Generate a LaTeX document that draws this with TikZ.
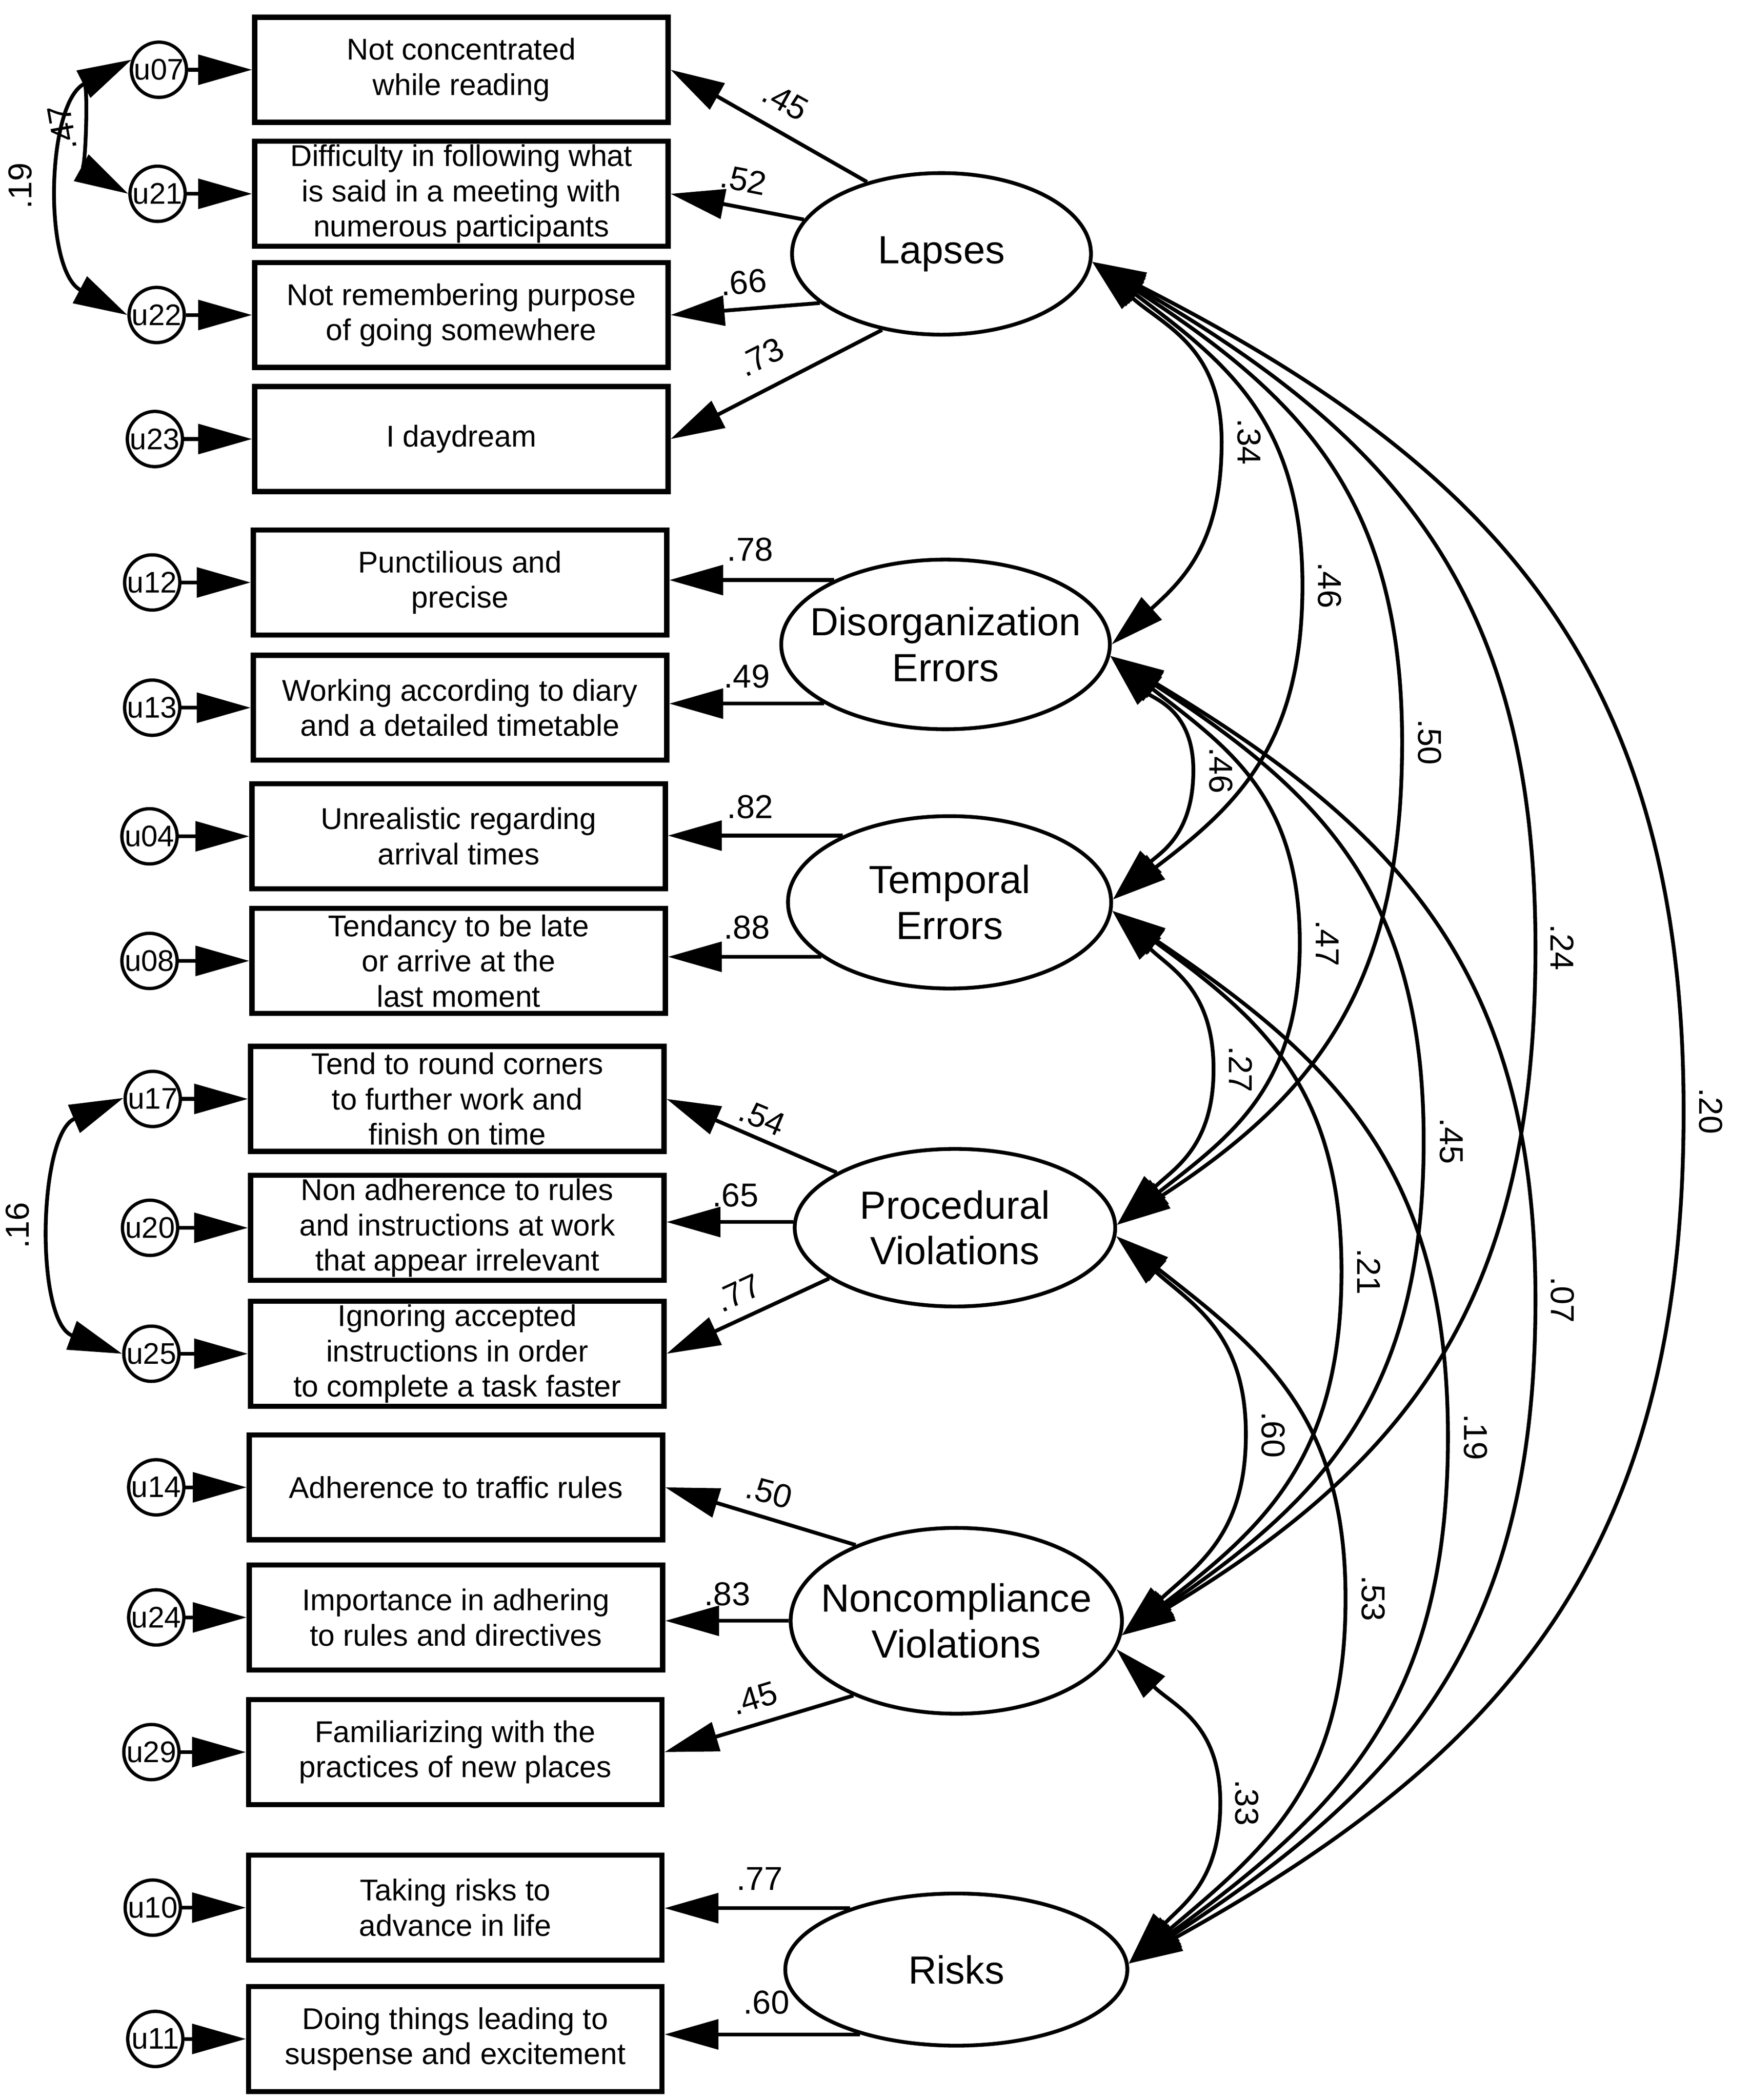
\documentclass[tikz,border=0pt]{standalone}
\usepackage{fontspec}
\setmainfont{Liberation Sans}
\usetikzlibrary{arrows.meta,shapes.geometric}
\begin{document}
\begin{tikzpicture}[x=0.02cm,y=-0.02cm,
  tri/.tip={Triangle[length=0.8cm,width=0.44cm]},
  obs/.style={draw,line width=2.2pt,rectangle,minimum width=6.14cm,minimum height=1.56cm,inner sep=0pt,align=center,font=\fontsize{12.7}{14.9}\selectfont},
  errc/.style={draw,circle,line width=1.4pt,minimum size=0.82cm,inner sep=0pt},
  errt/.style={inner sep=0pt,font=\fontsize{12.6}{12.6}\selectfont},
  lat/.style={draw,ellipse,line width=1.6pt,inner sep=0pt},
  latt/.style={align=center,inner sep=0pt,font=\fontsize{16.6}{19.3}\selectfont},
  ld/.style={-tri,line width=1.6pt},
  cov/.style={tri-tri,line width=1.6pt},
  lbl/.style={inner sep=0pt,font=\fontsize{14}{14}\selectfont},
  lp/.style={looseness=1.1}
]
\path[use as bounding box] (0,0) rectangle (1300,1559.35);

% observed variables
\node[obs] (b1) at (342.5,51.8) {Not concentrated\\while reading};
\node[obs] (b2) at (342.5,143.9) {Difficulty in following what\\is said in a meeting with\\numerous participants};
\node[obs] (b3) at (342.5,233.9) {Not remembering purpose\\of going somewhere};
\node[obs] (b4) at (342.5,326) {I daydream};
\node[obs] (b5) at (341.5,432.5) {Punctilious and\\precise};
\node[obs] (b6) at (341.5,525.5) {Working according to diary\\and a detailed timetable};
\node[obs] (b7) at (340.5,621) {Unrealistic regarding\\arrival times};
\node[obs] (b8) at (340.5,713.5) {Tendancy to be late\\or arrive at the\\last moment};
\node[obs] (b9) at (339.5,816) {Tend to round corners\\to further work and\\finish on time};
\node[obs] (b10) at (339.5,911.7) {Non adherence to rules\\and instructions at work\\that appear irrelevant};
\node[obs] (b11) at (339.5,1005.2) {Ignoring accepted\\instructions in order\\to complete a task faster};
\node[obs] (b12) at (338.5,1104.4) {Adherence to traffic rules};
\node[obs] (b13) at (338.5,1201) {Importance in adhering\\to rules and directives};
\node[obs] (b14) at (338,1301) {Familiarizing with the\\practices of new places};
\node[obs] (b15) at (338,1416.5) {Taking risks to\\advance in life};
\node[obs] (b16) at (338,1514) {Doing things leading to\\suspense and excitement};

% error terms
\node[errc] (e07) at (118,51.8) {};   \node[errt] (t07) at (e07) {u07};
\node[errc] (e21) at (117,143.9) {};  \node[errt] (t21) at (e21) {u21};
\node[errc] (e22) at (116.3,233.9) {};\node[errt] (t22) at (e22) {u22};
\node[errc] (e23) at (115,326) {};    \node[errt] (t23) at (e23) {u23};
\node[errc] (e12) at (113,432.5) {};  \node[errt] (t12) at (e12) {u12};
\node[errc] (e13) at (113,525.5) {};  \node[errt] (t13) at (e13) {u13};
\node[errc] (e04) at (111,621) {};    \node[errt] (t04) at (e04) {u04};
\node[errc] (e08) at (111,713.5) {};  \node[errt] (t08) at (e08) {u08};
\node[errc] (e17) at (113.4,816) {};  \node[errt] (t17) at (e17) {u17};
\node[errc] (e20) at (111.4,911.7) {};\node[errt] (t20) at (e20) {u20};
\node[errc] (e25) at (112.4,1005.2) {};\node[errt] (t25) at (e25) {u25};
\node[errc] (e14) at (116,1104.4) {}; \node[errt] (t14) at (e14) {u14};
\node[errc] (e24) at (116,1201) {};   \node[errt] (t24) at (e24) {u24};
\node[errc] (e29) at (112.4,1301) {}; \node[errt] (t29) at (e29) {u29};
\node[errc] (e10) at (113.4,1416.5) {};\node[errt] (t10) at (e10) {u10};
\node[errc] (e11) at (115.3,1514) {}; \node[errt] (t11) at (e11) {u11};

\foreach \e/\b in {e07/b1,e21/b2,e22/b3,e23/b4,e12/b5,e13/b6,e04/b7,e08/b8,e17/b9,e20/b10,e25/b11,e14/b12,e24/b13,e29/b14,e10/b15,e11/b16}
  \draw[ld] (\e) -- (\b.west);

% error covariances
\draw[cov] (e07.160) to[out=207,in=151,distance=0.72cm] (e21.180);
\draw[cov] (e07.160) to[out=207,in=152,distance=1.42cm] (e22.180);
\draw[cov] (e17.178) to[out=203,in=160,distance=1.38cm] (e25.180);
\node[lbl,rotate=100] (c47) at (46,95) {.47};
\node[lbl,rotate=90] (c19) at (15,138) {.19};
\node[lbl,rotate=90] (c16) at (13,910) {.16};

% latent variables
\node[lat,minimum width=4.44cm,minimum height=2.4cm] (L) at (699,188.5) {};
\node[latt] (Lt) at (L) {Lapses};
\node[lat,minimum width=4.88cm,minimum height=2.52cm] (D) at (702,478.5) {};
\node[latt] (Dt) at (D) {Disorganization\\Errors};
\node[lat,minimum width=4.8cm,minimum height=2.56cm] (T) at (705,670) {};
\node[latt] (Tt) at (T) {Temporal\\Errors};
\node[lat,minimum width=4.76cm,minimum height=2.34cm] (P) at (709,911.6) {};
\node[latt] (Pt) at (P) {Procedural\\Violations};
\node[lat,minimum width=4.92cm,minimum height=2.76cm] (N) at (710,1203.5) {};
\node[latt] (Nt) at (N) {Noncompliance\\Violations};
\node[lat,minimum width=5.08cm,minimum height=2.26cm] (R) at (710,1462.5) {};
\node[latt] (Rt) at (R) {Risks};

% loadings
\draw[ld] (L.136) -- (b1.east);
\draw[ld] (L.166) -- (b2.east);
\draw[ld] (L.202) -- (b3.east);
\draw[ld] (L.232) -- (b4.east);
\draw[ld] (D.150) -- (D.150 -| b5.east);
\draw[ld] (D.206) -- (D.206 -| b6.east);
\draw[ld] (T.148) -- (T.148 -| b7.east);
\draw[ld] (T.203) -- (T.203 -| b8.east);
\draw[ld] (P.155) -- (b9.east);
\draw[ld] (P.178) -- (P.178 -| b10.east);
\draw[ld] (P.202) -- (b11.east);
\draw[ld] (N.143) -- (b12.east);
\draw[ld] (N.180) -- (N.180 -| b13.east);
\draw[ld] (N.216) -- (b14.east);
\draw[ld] (R.150) -- (R.150 -| b15.east);
\draw[ld] (R.214) -- (R.214 -| b16.east);

\node[lbl,rotate=-29] (l1) at (583,75) {.45};
\node[lbl,rotate=-11] (l2) at (552,133.6) {.52};
\node[lbl,rotate=5] (l3) at (552,209.6) {.66};
\node[lbl,rotate=27] (l4) at (565,265) {.73};
\node[lbl] (l5) at (557,408) {.78};
\node[lbl] (l6) at (554.5,502.2) {.49};
\node[lbl] (l7) at (557,599) {.82};
\node[lbl] (l8) at (554.5,688.5) {.88};
\node[lbl,rotate=-23] (l9) at (566,830) {.54};
\node[lbl] (l10) at (546,887.4) {.65};
\node[lbl,rotate=25] (l11) at (548,960) {.77};
\node[lbl,rotate=-15] (l12) at (571,1108) {.50};
\node[lbl] (l13) at (540,1183.5) {.83};
\node[lbl,rotate=17] (l14) at (560,1261) {.45};
\node[lbl] (l15) at (564,1395) {.77};
\node[lbl] (l16) at (569,1487) {.60};

% factor correlations
\coordinate (mLD) at (907,328);
\coordinate (mLT) at (967,434.6);
\coordinate (mLP) at (1041,551);
\coordinate (mLN) at (1140,703.5);
\coordinate (mLR) at (1250,825);
\coordinate (mDT) at (886,572);
\coordinate (mDP) at (965,700);
\coordinate (mDN) at (1057,847);
\coordinate (mDR) at (1140,965);
\coordinate (mTP) at (901,794);
\coordinate (mTN) at (996,944);
\coordinate (mTR) at (1075,1067);
\coordinate (mPN) at (925,1065);
\coordinate (mPR) at (999,1187);
\coordinate (mNR) at (906,1338.6);

\draw[cov] (L.-3) to[out=-42,in=90,lp] (mLD) to[out=-90,in=42,lp] (D.0);
\draw[cov] (L.-3) to[out=-37,in=90,lp] (mLT) to[out=-90,in=37,lp] (T.1);
\draw[cov] (L.-3) to[out=-33,in=90,lp] (mLP) to[out=-90,in=33,lp] (P.1);
\draw[cov] (L.-3) to[out=-30,in=90,lp] (mLN) to[out=-90,in=31,lp] (N.-5);
\draw[cov] (L.-3) to[out=-27,in=90,lp] (mLR) to[out=-90,in=29,lp] (R.2);
\draw[cov] (D.-4) to[out=-45,in=90,lp] (mDT) to[out=-90,in=45,lp] (T.1);
\draw[cov] (D.-4) to[out=-38,in=90,lp] (mDP) to[out=-90,in=38,lp] (P.1);
\draw[cov] (D.-4) to[out=-33,in=90,lp] (mDN) to[out=-90,in=34,lp] (N.-5);
\draw[cov] (D.-4) to[out=-31,in=90,lp] (mDR) to[out=-90,in=33,lp] (R.2);
\draw[cov] (T.-3) to[out=-45,in=90,lp] (mTP) to[out=-90,in=45,lp] (P.1);
\draw[cov] (T.-3) to[out=-36,in=90,lp] (mTN) to[out=-90,in=37,lp] (N.-5);
\draw[cov] (T.-3) to[out=-34,in=90,lp] (mTR) to[out=-90,in=36,lp] (R.2);
\draw[cov] (P.-3) to[out=-42,in=90,lp] (mPN) to[out=-90,in=43,lp] (N.-5);
\draw[cov] (P.-3) to[out=-38,in=90,lp] (mPR) to[out=-90,in=40,lp] (R.2);
\draw[cov] (N.-10) to[out=-45,in=90,lp] (mNR) to[out=-90,in=48,lp] (R.2);

\node[lbl,rotate=-90] (cLD) at (927.5,328) {.34};
\node[lbl,rotate=-90] (cLT) at (987.3,434.6) {.46};
\node[lbl,rotate=-90] (cLP) at (1061.6,551) {.50};
\node[lbl,rotate=-90] (cLN) at (1160,703.5) {.24};
\node[lbl,rotate=-90] (cLR) at (1270,825) {.20};
\node[lbl,rotate=-90] (cDT) at (906.5,572) {.46};
\node[lbl,rotate=-90] (cDP) at (985.6,700.3) {.47};
\node[lbl,rotate=-90] (cDN) at (1077.7,847.3) {.45};
\node[lbl,rotate=-90] (cDR) at (1160,965.2) {.07};
\node[lbl,rotate=-90] (cTP) at (921,794) {.27};
\node[lbl,rotate=-90] (cTN) at (1016.3,944.2) {.21};
\node[lbl,rotate=-90] (cTR) at (1095.5,1067) {.19};
\node[lbl,rotate=-90] (cPN) at (945.3,1065.4) {.60};
\node[lbl,rotate=-90] (cPR) at (1019.6,1186.8) {.53};
\node[lbl,rotate=-90] (cNR) at (925.9,1338.6) {.33};
\end{tikzpicture}
\end{document}
